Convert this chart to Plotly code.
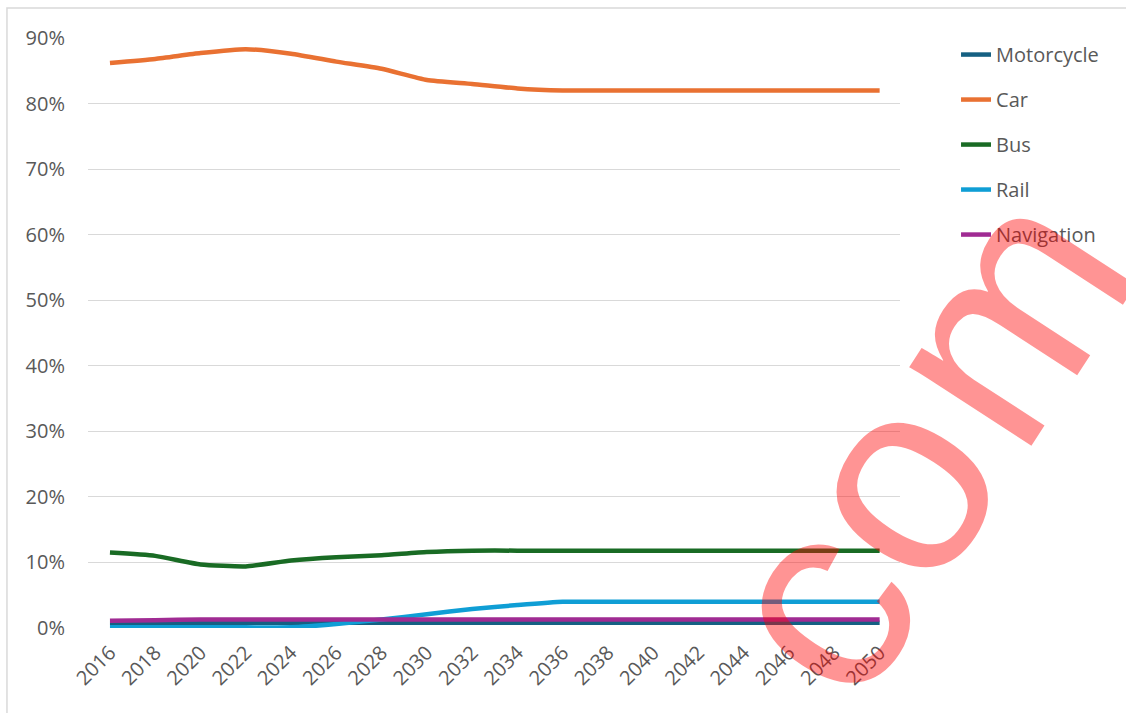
import plotly.graph_objects as go

years = [2016, 2018, 2020, 2022, 2024, 2026, 2028, 2030, 2032, 2034, 2036, 2038,
         2040, 2042, 2044, 2046, 2048, 2050]

motorcycle = [0.8, 0.8, 0.8, 0.8, 0.8, 0.8, 0.8, 0.8, 0.8, 0.8, 0.8, 0.8,
              0.8, 0.8, 0.8, 0.8, 0.8, 0.8]
car = [86.2, 86.8, 87.7, 88.3, 87.6, 86.4, 85.3, 83.6, 83.0, 82.3, 82.0, 82.0,
       82.0, 82.0, 82.0, 82.0, 82.0, 82.0]
bus = [11.5, 11.0, 9.7, 9.4, 10.3, 10.8, 11.1, 11.6, 11.8, 11.8, 11.8, 11.8,
       11.8, 11.8, 11.8, 11.8, 11.8, 11.8]
rail = [0.1, 0.1, 0.1, 0.1, 0.1, 0.6, 1.3, 2.1, 2.9, 3.5, 4.0, 4.0,
        4.0, 4.0, 4.0, 4.0, 4.0, 4.0]
navigation = [1.1, 1.2, 1.3, 1.3, 1.3, 1.3, 1.3, 1.3, 1.3, 1.3, 1.3, 1.3,
              1.3, 1.3, 1.3, 1.3, 1.3, 1.3]

series = [
    ("Motorcycle", motorcycle, "#156082"),
    ("Car", car, "#E97132"),
    ("Bus", bus, "#196B24"),
    ("Rail", rail, "#0F9ED5"),
    ("Navigation", navigation, "#A02B93"),
]

FONT = "Open Sans"
TXT = "#595959"
FS = 20

fig = go.Figure()
for name, vals, col in series:
    fig.add_trace(go.Scatter(
        x=years, y=[v / 100 for v in vals], name=name, mode="lines",
        line=dict(color=col, width=4.5, shape="spline", smoothing=0.5),
        legendgroup=name,
    ))

fig.update_layout(
    width=1126, height=713,
    margin=dict(l=88, r=226, t=38, b=85),
    paper_bgcolor="white", plot_bgcolor="white",
    font=dict(family=FONT, size=FS, color=TXT),
    showlegend=True,
    legend=dict(x=1.069, xanchor="left", y=1.005, yanchor="top",
                traceorder="grouped", tracegroupgap=16,
                font=dict(family=FONT, size=FS, color=TXT),
                bgcolor="rgba(0,0,0,0)"),
    xaxis=dict(range=[2015.03, 2050.9], tickmode="array", tickvals=years,
               ticktext=[str(y) for y in years], tickangle=-45,
               showgrid=False, zeroline=False, showline=False,
               ticks="", ticklabelstandoff=8,
               tickfont=dict(family=FONT, size=FS, color=TXT)),
    yaxis=dict(range=[0, 0.9], dtick=0.1, tickformat=".0%",
               showgrid=True, gridcolor="#D9D9D9", gridwidth=1,
               zeroline=False, showline=False, ticks="",
               ticklabelstandoff=22,
               tickfont=dict(family=FONT, size=FS, color=TXT)),
    shapes=[dict(type="rect", xref="paper", yref="paper",
                 x0=-0.0998, x1=1.5, y0=-0.5, y1=1.0508,
                 line=dict(color="#D9D9D9", width=1.5), layer="below")],
    annotations=[dict(text="co<span style='font-size:40px'> </span>m",
                      xref="paper", yref="paper", x=1.0268, y=0.3188,
                      xanchor="center", yanchor="middle", showarrow=False,
                      textangle=-57,
                      font=dict(family="Liberation Sans", size=275,
                                color="rgba(255,0,0,0.42)"))],
)

fig.write_html("out.html")
